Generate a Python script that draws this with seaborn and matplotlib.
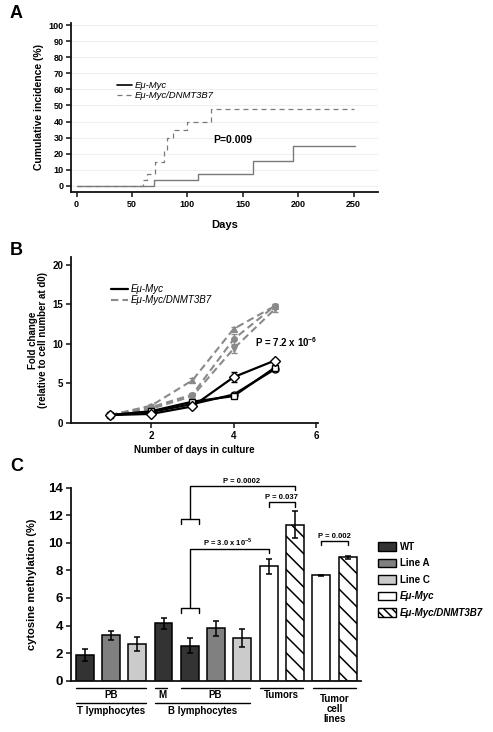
import numpy as np
import pandas as pd
import matplotlib
matplotlib.use("Agg")
import matplotlib.pyplot as plt
import seaborn as sns
from matplotlib.lines import Line2D
from matplotlib.patches import Patch

sns.set_style("ticks")
plt.rcParams['font.family'] = ['Liberation Sans', 'DejaVu Sans']
plt.rcParams['mathtext.fontset'] = 'custom'
plt.rcParams['mathtext.rm'] = 'Liberation Sans'
plt.rcParams['mathtext.bf'] = 'Liberation Sans:bold'
plt.rcParams['hatch.linewidth'] = 1.1
for k in ('text.color', 'axes.labelcolor', 'xtick.color', 'ytick.color'):
    plt.rcParams[k] = 'black'

# ---------------- Data ----------------
# Panel A: cumulative incidence (step curves)
a_days_myc = [0, 70, 110, 159, 195, 251]
a_inc_myc = [0, 3.3, 7, 15.6, 24.5, 24.5]
a_days_dnmt = [0, 60, 64, 71, 79, 82, 87, 100, 121, 250]
a_inc_dnmt = [0, 3.7, 7.5, 15, 22, 30, 35, 40, 48, 48]
a_xticks = [0, 50, 100, 150, 200, 250]
a_yticks = list(range(0, 101, 10))

# Panel B: fold change
b_days = [1, 2, 3, 4, 5]
b_myc_d = [1.0, 1.15, 2.1, 5.8, 7.9]
b_myc_d_err = [0.05, 0.1, 0.15, 0.65, 0.25]
b_myc_s = [1.0, 1.5, 2.7, 3.4, 7.0]
b_myc_s_err = [0.05, 0.1, 0.15, 0.2, 0.2]
b_myc_c = [1.0, 1.4, 2.4, 3.6, 6.8]
b_myc_c_err = [0.05, 0.1, 0.15, 0.2, 0.2]
b_dn_t = [1.0, 2.2, 5.4, 11.9, 14.8]
b_dn_t_err = [0.05, 0.15, 0.3, 0.3, 0.3]
b_dn_c = [1.0, 2.0, 3.6, 10.6, 14.8]
b_dn_c_err = [0.05, 0.15, 0.2, 0.7, 0.3]
b_dn_v = [1.0, 1.8, 3.4, 9.4, 14.4]
b_dn_v_err = [0.05, 0.15, 0.2, 0.6, 0.3]
b_xticks = [2, 4, 6]
b_yticks = [0, 5, 10, 15, 20]

# Panel C: cytosine methylation
c_cats = ["T_PB_WT", "T_PB_A", "T_PB_C", "B_M_WT", "B_PB_WT", "B_PB_A", "B_PB_C",
          "Tum_Myc", "Tum_DNMT", "Cell_Myc", "Cell_DNMT"]
c_groups = ["WT", "Line A", "Line C", "WT", "WT", "Line A", "Line C",
            "Eμ-Myc", "Eμ-Myc/DNMT3B7", "Eμ-Myc", "Eμ-Myc/DNMT3B7"]
c_vals = [1.87, 3.3, 2.69, 4.17, 2.55, 3.81, 3.08, 8.3, 11.33, 7.64, 8.96]
c_errs = [0.45, 0.33, 0.5, 0.41, 0.57, 0.55, 0.65, 0.55, 0.95, 0.05, 0.1]
c_yticks = [0, 2, 4, 6, 8, 10, 12, 14]
group_colors = {"WT": "#333333", "Line A": "#808080", "Line C": "#cbcbcb",
                "Eμ-Myc": "#ffffff", "Eμ-Myc/DNMT3B7": "#ffffff"}

# ---------------- Figure ----------------
W, H = 493, 732
fig = plt.figure(figsize=(W / 100, H / 100), dpi=100)

def px_axes(l, t, r, b):
    return fig.add_axes([l / W, 1 - b / H, (r - l) / W, (b - t) / H])

def style_spines(ax):
    sns.despine(ax=ax)
    for s in ("left", "bottom"):
        ax.spines[s].set_linewidth(1.3)
        ax.spines[s].set_color("#111111")
    ax.tick_params(width=1.1, length=3.5, color="#111111", pad=2)

# ---- Panel A ----
axA = px_axes(71, 23, 378, 192)
dfA1 = pd.DataFrame({"day": a_days_myc, "inc": a_inc_myc})
dfA2 = pd.DataFrame({"day": a_days_dnmt, "inc": a_inc_dnmt})
sns.lineplot(data=dfA1, x="day", y="inc", ax=axA, color="#7a7a7a", lw=1.0,
             drawstyle="steps-post", sort=False, estimator=None)
sns.lineplot(data=dfA2, x="day", y="inc", ax=axA, color="#7a7a7a", lw=0.9,
             linestyle=(0, (4, 3.2)), drawstyle="steps-post", sort=False, estimator=None)
axA.set_xlim(-5, 272)
axA.set_ylim(-4, 101.5)
axA.set_xticks(a_xticks)
axA.set_yticks(a_yticks)
axA.yaxis.grid(True, color="#efefef", lw=0.8)
axA.set_axisbelow(True)
style_spines(axA)
for lab in axA.get_xticklabels() + axA.get_yticklabels():
    lab.set_fontweight("bold")
    lab.set_fontsize(6.5)
axA.set_xlabel("Days", fontsize=8, fontweight="bold", labelpad=8)
axA.set_ylabel("Cumulative incidence (%)", fontsize=7.5, fontweight="bold", labelpad=3)
axA.text(123, 28.7, "P=0.009", fontsize=7.5, fontweight="bold", va="center", ha="left")
hA = [Line2D([], [], color="black", lw=1.2),
      Line2D([], [], color="#7a7a7a", lw=0.9, linestyle=(0, (4, 3.2)))]
legA = axA.legend(hA, ["Eμ-Myc", "Eμ-Myc/DNMT3B7"], loc="upper left",
                  bbox_to_anchor=(117 / W, 1 - 81 / H), bbox_transform=fig.transFigure,
                  frameon=False, borderpad=0, borderaxespad=0, handlelength=1.6,
                  handletextpad=0.3, labelspacing=0.1, prop={"size": 6.8, "style": "italic"})

# ---- Panel B ----
axB = px_axes(71, 257, 318, 423)
black_series = [(b_myc_d, b_myc_d_err, "D", 5.5), (b_myc_s, b_myc_s_err, "s", 5.0),
                (b_myc_c, b_myc_c_err, "o", 5.0)]
gray_series = [(b_dn_t, b_dn_t_err, "^", 4.5), (b_dn_c, b_dn_c_err, "o", 4.2),
               (b_dn_v, b_dn_v_err, "v", 4.5)]
gcol = "#8a8a8a"
for vals, errs, mk, ms in gray_series:
    d = pd.DataFrame({"day": b_days, "fc": vals})
    sns.lineplot(data=d, x="day", y="fc", ax=axB, color=gcol, lw=1.5,
                 linestyle=(0, (3.5, 2)), marker=mk, markersize=ms,
                 markerfacecolor=gcol, markeredgecolor=gcol, sort=False, estimator=None)
    axB.errorbar(b_days, vals, yerr=errs, fmt="none", ecolor=gcol, elinewidth=1.0, capsize=2.5)
for vals, errs, mk, ms in black_series[::-1]:
    d = pd.DataFrame({"day": b_days, "fc": vals})
    axB.errorbar(b_days, vals, yerr=errs, fmt="none", ecolor="black", elinewidth=1.0,
                 capsize=2.5, zorder=3)
    sns.lineplot(data=d, x="day", y="fc", ax=axB, color="black", lw=1.6,
                 marker=mk, markersize=ms, markerfacecolor="white",
                 markeredgecolor="black", markeredgewidth=1.0, sort=False,
                 estimator=None, zorder=4)
axB.set_xlim(0.05, 6.05)
axB.set_ylim(0, 21)
axB.set_xticks(b_xticks)
axB.set_yticks(b_yticks)
style_spines(axB)
for lab in axB.get_xticklabels() + axB.get_yticklabels():
    lab.set_fontweight("bold")
    lab.set_fontsize(7)
axB.set_xlabel("Number of days in culture", fontsize=7, fontweight="bold", labelpad=3)
axB.set_ylabel("Fold change\n(relative to cell number at d0)", fontsize=7,
               fontweight="bold", labelpad=3, linespacing=1.0)
axB.text(4.52, 10.2, r"P = 7.2 x 10$^{\mathbf{-6}}$", fontsize=7, fontweight="bold",
         va="center", ha="left")
hB = [Line2D([], [], color="black", lw=1.6),
      Line2D([], [], color=gcol, lw=1.5, linestyle=(0, (3.5, 2)))]
axB.legend(hB, ["Eμ-Myc", "Eμ-Myc/DNMT3B7"], loc="upper left",
           bbox_to_anchor=(111 / W, 1 - 284 / H), bbox_transform=fig.transFigure,
           frameon=False, borderpad=0, borderaxespad=0, handlelength=1.7,
           handletextpad=0.3, labelspacing=0.15, prop={"size": 7, "style": "italic"})

# ---- Panel C ----
axC = px_axes(71, 487.7, 361, 680.7)
dfC = pd.DataFrame({"cat": c_cats, "grp": c_groups, "val": c_vals})
sns.barplot(data=dfC, x="cat", y="val", hue="cat", order=c_cats, hue_order=c_cats,
            palette=[group_colors[g] for g in c_groups], dodge=False, legend=False,
            width=0.68, edgecolor="black", linewidth=1.1, ax=axC, errorbar=None,
            saturation=1)
for patch, g in zip(axC.patches, c_groups):
    if g == "Eμ-Myc/DNMT3B7":
        patch.set_hatch("\\\\")
axC.errorbar(range(len(c_cats)), c_vals, yerr=c_errs, fmt="none", ecolor="black",
             elinewidth=1.1, capsize=2.5, capthick=1.1, zorder=5)
axC.set_xlim(-0.52, 10.51)
axC.set_ylim(0, 14)
axC.set_yticks(c_yticks)
style_spines(axC)
axC.tick_params(axis="x", bottom=False, labelbottom=False)
for lab in axC.get_yticklabels():
    lab.set_fontweight("bold")
    lab.set_fontsize(9.5)
axC.set_xlabel("")
axC.set_ylabel("cytosine methylation (%)", fontsize=8, fontweight="bold", labelpad=8)

def bracket(x0, x1, y, tick):
    axC.plot([x0, x0, x1, x1], [y - tick, y, y, y - tick], color="black", lw=1.0,
             clip_on=False)

def ptext(x, y, s):
    axC.text(x, y, s, fontsize=5.5, fontweight="bold", ha="center", va="bottom")

# small brackets with stems
bracket(3.66, 4.34, 11.7, 0.35)
axC.plot([4.0, 4.0, 8.0, 8.0], [11.7, 14.15, 14.15, 13.85], color="black", lw=1.0,
         clip_on=False)
ptext(5.97, 14.22, "P = 0.0002")
bracket(3.66, 4.34, 5.25, 0.35)
axC.plot([4.0, 4.0, 7.0, 7.0], [5.25, 9.52, 9.52, 9.23], color="black", lw=1.0,
         clip_on=False)
ptext(5.44, 9.6, r"P = 3.0 x 10$^{\mathbf{-5}}$")
bracket(7.0, 8.0, 12.93, 0.33)
ptext(7.5, 13.0, "P = 0.037")
bracket(9.0, 10.0, 10.12, 0.3)
ptext(9.5, 10.2, "P = 0.002")

# group labels under the axis
trans = matplotlib.transforms.blended_transform_factory(axC.transData, fig.transFigure)
def hline(x0, x1, ypx):
    axC.plot([x0, x1], [1 - ypx / H] * 2, color="black", lw=1.0, transform=trans,
             clip_on=False)
def glabel(x, ypx, s):
    axC.text(x, 1 - ypx / H, s, transform=trans, fontsize=7, fontweight="bold",
             ha="center", va="center", linespacing=1.05)

hline(-0.34, 2.34, 687.7); glabel(1.0, 695.5, "PB")
hline(-0.34, 2.34, 702.7); glabel(1.0, 710.5, "T lymphocytes")
hline(2.66, 3.13, 687.7); glabel(2.95, 695.5, "M")
hline(3.66, 6.29, 687.7); glabel(4.97, 695.5, "PB")
hline(2.66, 6.29, 702.7); glabel(4.5, 710.5, "B lymphocytes")
hline(6.67, 8.31, 687.7); glabel(7.5, 695.5, "Tumors")
hline(8.67, 10.32, 687.7); glabel(9.5, 709, "Tumor\ncell\nlines")

# legend C
leg_labels = ["WT", "Line A", "Line C", "Eμ-Myc", "Eμ-Myc/DNMT3B7"]
hC = [Patch(facecolor=group_colors["WT"], edgecolor="black", lw=1.0),
      Patch(facecolor=group_colors["Line A"], edgecolor="black", lw=1.0),
      Patch(facecolor=group_colors["Line C"], edgecolor="black", lw=1.0),
      Patch(facecolor="white", edgecolor="black", lw=1.0),
      Patch(facecolor="white", edgecolor="black", lw=1.0, hatch="\\\\\\\\")]
legC = axC.legend(hC, leg_labels, loc="upper left",
                  bbox_to_anchor=(378 / W, 1 - 542 / H), bbox_transform=fig.transFigure,
                  frameon=False, borderpad=0, borderaxespad=0, handlelength=1.8,
                  handleheight=1.0, handletextpad=0.45, labelspacing=0.66,
                  prop={"size": 7, "weight": "bold"})
for t in legC.get_texts()[3:]:
    t.set_fontstyle("italic")

# panel letters
for lt, ypx in (("A", 14), ("B", 250), ("C", 466)):
    fig.text(10 / W, 1 - ypx / H, lt, fontsize=13, fontweight="bold", va="center", ha="left")

fig.savefig("out.png", dpi=100)
